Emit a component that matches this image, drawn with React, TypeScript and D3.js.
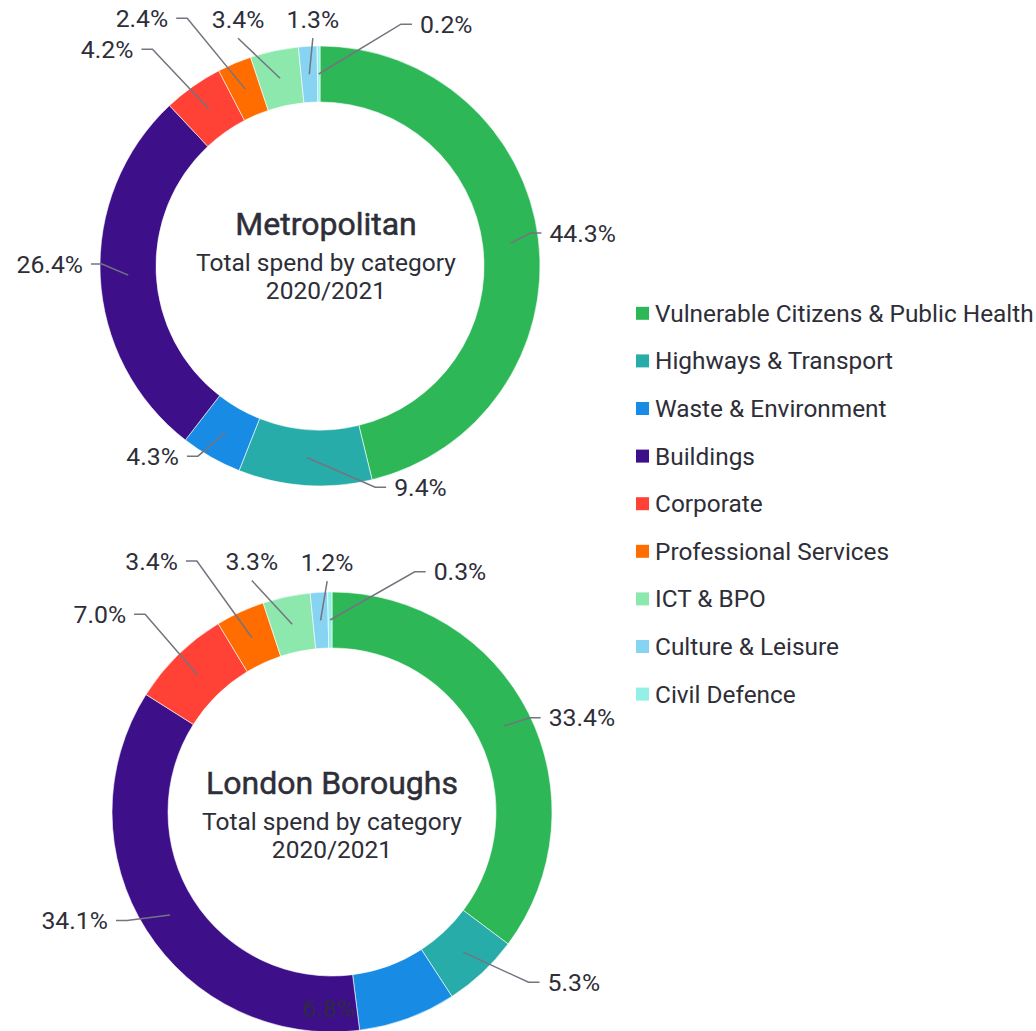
import React from "react";
import * as d3 from "d3";

// ---- Data ----
const categories = [
  "Vulnerable Citizens & Public Health",
  "Highways & Transport",
  "Waste & Environment",
  "Buildings",
  "Corporate",
  "Professional Services",
  "ICT & BPO",
  "Culture & Leisure",
  "Civil Defence",
];
const metropolitanValues = [44.3, 9.4, 4.3, 26.4, 4.2, 2.4, 3.4, 1.3, 0.2];
const londonValues = [33.4, 5.3, 6.8, 34.1, 7.0, 3.4, 3.3, 1.2, 0.3];
const chartTitles = ["Metropolitan", "London Boroughs"];
const subtitleLines = ["Total spend by category", "2020/2021"];

// ---- Styles / layout ----
const colors = [
  "#2DB757",
  "#27ACAA",
  "#188CE5",
  "#3D108A",
  "#FF4136",
  "#FF6D00",
  "#8CE8AD",
  "#87D3F2",
  "#93F0E6",
];
const TEXT = "#2E2E38";
const LEADER = "#747480";
const FONT = "Roboto, 'Noto Sans', sans-serif";
const LABEL_SIZE = 24.8;

// label elbow positions in polar form (degrees clockwise from 12 o'clock, radius) and mode
type LabelLayout = { a: number; r: number; mode: "h" | "v" | "in" };
const metroLabelLayout: LabelLayout[] = [
  { a: 81.1, r: 213, mode: "h" },
  { a: 166, r: 228, mode: "h" },
  { a: 212.7, r: 226, mode: "h" },
  { a: 270.5, r: 218, mode: "h" },
  { a: 322.3, r: 274, mode: "h" },
  { a: 331.8, r: 281, mode: "h" },
  { a: 340.2, r: 242, mode: "v" },
  { a: 358.2, r: 228, mode: "v" },
  { a: 18.5, r: 255, mode: "h" },
];
const londonLabelLayout: LabelLayout[] = [
  { a: 64.5, r: 219, mode: "h" },
  { a: 130.9, r: 260, mode: "h" },
  { a: 181, r: 197, mode: "in" },
  { a: 242.1, r: 232, mode: "h" },
  { a: 316.6, r: 272, mode: "h" },
  { a: 331.7, r: 285, mode: "h" },
  { a: 340.9, r: 245, mode: "v" },
  { a: 358.8, r: 231, mode: "v" },
  { a: 19, r: 254, mode: "h" },
];

const charts = [
  { title: chartTitles[0], values: metropolitanValues, cx: 320, cy: 266, outer: 220, inner: 164, layout: metroLabelLayout, tdx: 6, tdy: -31 },
  { title: chartTitles[1], values: londonValues, cx: 332, cy: 812, outer: 220, inner: 164, layout: londonLabelLayout, tdx: 0, tdy: -18 },
];

function polar(cx: number, cy: number, deg: number, r: number): [number, number] {
  const a = (deg * Math.PI) / 180;
  return [cx + r * Math.sin(a), cy - r * Math.cos(a)];
}

function Donut({ chart }: { chart: (typeof charts)[number] }) {
  const { values, cx, cy, outer, inner, layout, title, tdx, tdy } = chart;
  const pie = d3.pie<number>().sort(null).value((d) => d)(values);
  const arc = d3.arc<d3.PieArcDatum<number>>().innerRadius(inner).outerRadius(outer);
  const midR = (inner + outer) / 2;
  const midArc = d3.arc<d3.PieArcDatum<number>>().innerRadius(midR).outerRadius(midR);
  const fmt = d3.format(".1f");
  return (
    <g>
      <g transform={`translate(${cx},${cy})`}>
        {pie.map((p, i) => (
          <path key={i} d={arc(p) || ""} fill={colors[i]} stroke="#fff" strokeWidth={0.6} />
        ))}
      </g>
      {pie.map((p, i) => {
        const L = layout[i];
        const label = fmt(values[i]) + "%";
        const [ex, ey] = polar(cx, cy, L.a, L.r);
        if (L.mode === "in") {
          return (
            <text key={i} x={ex} y={ey + 8.5} textAnchor="middle" fontSize={LABEL_SIZE} fill={TEXT} fontFamily={FONT} fillOpacity={0.9}>
              {label}
            </text>
          );
        }
        const c = midArc.centroid(p);
        const sx = cx + c[0];
        const sy = cy + c[1];
        if (L.mode === "v") {
          return (
            <g key={i}>
              <line x1={sx} y1={sy} x2={ex} y2={ey} stroke={LEADER} strokeWidth={1.5} />
              <text x={ex} y={ey - 10} textAnchor="middle" fontSize={LABEL_SIZE} fill={TEXT} fontFamily={FONT}>
                {label}
              </text>
            </g>
          );
        }
        const right = ex >= cx;
        const hx = right ? ex + 11 : ex - 11;
        const tx = right ? hx + 8 : hx - 8;
        return (
          <g key={i}>
            <polyline points={`${sx},${sy} ${ex},${ey} ${hx},${ey}`} fill="none" stroke={LEADER} strokeWidth={1.5} />
            <text x={tx} y={ey + 8.5} textAnchor={right ? "start" : "end"} fontSize={LABEL_SIZE} fill={TEXT} fontFamily={FONT}>
              {label}
            </text>
          </g>
        );
      })}
      <text x={cx + tdx} y={cy + tdy} textAnchor="middle" fontSize={32} fontWeight={400} fill={TEXT} fontFamily={FONT} stroke={TEXT} strokeWidth={0.5}>
        {title}
      </text>
      {subtitleLines.map((s, k) => (
        <text key={k} x={cx + tdx} y={cy + tdy + 36 + k * 28} textAnchor="middle" fontSize={24.5} fill={TEXT} fontFamily={FONT}>
          {s}
        </text>
      ))}
    </g>
  );
}

export default function App() {
  const legendY = d3.scaleBand<string>().domain(categories).range([289.5, 289.5 + 47.6 * 9]);
  return (
    <svg width={1036} height={1031} style={{ position: "absolute", left: 0, top: 0 }}>
      <rect width={1036} height={1031} fill="#fff" />
      {charts.map((c, i) => (
        <Donut key={i} chart={c} />
      ))}
      <g>
        {categories.map((c, i) => {
          const y = (legendY(c) || 0) + legendY.bandwidth() / 2;
          return (
            <g key={c}>
              <rect x={636} y={y - 6.5} width={13} height={13} fill={colors[i]} />
              <text x={655} y={y + 8.5} fontSize={24.4} fill={TEXT} fontFamily={FONT}>
                {c}
              </text>
            </g>
          );
        })}
      </g>
    </svg>
  );
}
